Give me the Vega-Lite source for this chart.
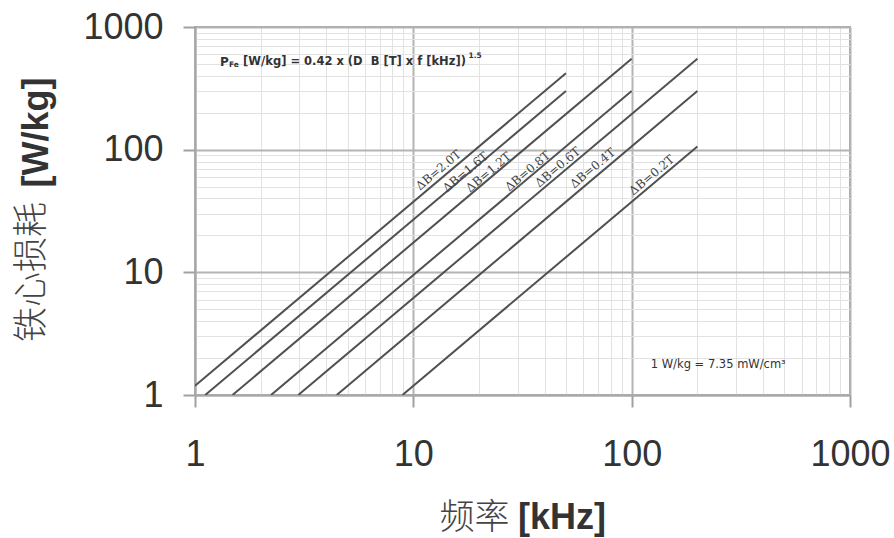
{
  "$schema": "https://vega.github.io/schema/vega-lite/v6.json",
  "width": 655,
  "height": 368,
  "autosize": "none",
  "padding": {"left": 195, "top": 27, "right": 44, "bottom": 143},
  "background": "white",
  "config": {
    "view": {"stroke": "#a8a8a8", "strokeWidth": 2}
  },
  "datasets": {
    "lines": [
      {"series": "2.0", "f": 1, "P": 1.188},
      {"series": "2.0", "f": 50, "P": 420},
      {"series": "1.6", "f": 1.114, "P": 1},
      {"series": "1.6", "f": 50, "P": 300.5},
      {"series": "1.2", "f": 1.486, "P": 1},
      {"series": "1.2", "f": 100, "P": 552.1},
      {"series": "0.8", "f": 2.229, "P": 1},
      {"series": "0.8", "f": 100, "P": 300.5},
      {"series": "0.6", "f": 2.972, "P": 1},
      {"series": "0.6", "f": 200, "P": 552.1},
      {"series": "0.4", "f": 4.458, "P": 1},
      {"series": "0.4", "f": 200, "P": 300.5},
      {"series": "0.2", "f": 8.915, "P": 1},
      {"series": "0.2", "f": 200, "P": 106.3}
    ],
    "labels": [
      {"text": "ΔB=2.0T", "f": 13.02, "P": 68.2},
      {"text": "ΔB=1.6T", "f": 17.32, "P": 65.7},
      {"text": "ΔB=1.2T", "f": 22.08, "P": 65.7},
      {"text": "ΔB=0.8T", "f": 33.34, "P": 66.9},
      {"text": "ΔB=0.6T", "f": 45.8, "P": 72.1},
      {"text": "ΔB=0.4T", "f": 66.2, "P": 70.8},
      {"text": "ΔB=0.2T", "f": 123.5, "P": 62.1}
    ]
  },
  "layer": [
    {
      "data": {"name": "lines"},
      "mark": {"type": "line", "color": "#505050", "strokeWidth": 2, "clip": true},
      "encoding": {
        "x": {
          "field": "f", "type": "quantitative",
          "scale": {"type": "log", "domain": [1, 1000], "nice": false},
          "axis": {
            "title": null,
            "values": [1,2,3,4,5,6,7,8,9,10,20,30,40,50,60,70,80,90,100,200,300,400,500,600,700,800,900,1000],
            "labelExpr": "(datum.value == 1 || datum.value == 10 || datum.value == 100 || datum.value == 1000) ? datum.label : ''",
            "format": "d",
            "labelFont": "Liberation Sans",
            "labelFontSize": 36,
            "labelColor": "#333333",
            "labelBaseline": "alphabetic",
            "labelAlign": "center",
            "labelPadding": 58,
            "labelFlush": false,
            "labelOverlap": false,
            "labelBound": false,
            "tickSize": 12,
            "tickWidth": 2,
            "tickColor": {"condition": {"test": "datum.value == 1 || datum.value == 10 || datum.value == 100 || datum.value == 1000", "value": "#a0a0a0"}, "value": "transparent"},
            "domainColor": "#a8a8a8",
            "domainWidth": 2,
            "grid": true,
            "gridColor": {"condition": {"test": "datum.value == 1 || datum.value == 10 || datum.value == 100 || datum.value == 1000", "value": "#b4b4b4"}, "value": "#e2e2e2"},
            "gridWidth": {"condition": {"test": "datum.value == 1 || datum.value == 10 || datum.value == 100 || datum.value == 1000", "value": 2}, "value": 1}
          }
        },
        "y": {
          "field": "P", "type": "quantitative",
          "scale": {"type": "log", "domain": [1, 1000], "nice": false},
          "axis": {
            "title": null,
            "values": [1,2,3,4,5,6,7,8,9,10,20,30,40,50,60,70,80,90,100,200,300,400,500,600,700,800,900,1000],
            "labelExpr": "(datum.value == 1 || datum.value == 10 || datum.value == 100 || datum.value == 1000) ? datum.label : ''",
            "format": "d",
            "labelFont": "Liberation Sans",
            "labelFontSize": 36,
            "labelColor": "#333333",
            "labelBaseline": "middle",
            "labelAlign": "right",
            "labelPadding": 20,
            "labelFlush": false,
            "labelOverlap": false,
            "labelBound": false,
            "tickSize": 12,
            "tickWidth": 2,
            "tickColor": {"condition": {"test": "datum.value == 1 || datum.value == 10 || datum.value == 100 || datum.value == 1000", "value": "#a0a0a0"}, "value": "transparent"},
            "domainColor": "#a8a8a8",
            "domainWidth": 2,
            "grid": true,
            "gridColor": {"condition": {"test": "datum.value == 1 || datum.value == 10 || datum.value == 100 || datum.value == 1000", "value": "#b4b4b4"}, "value": "#e2e2e2"},
            "gridWidth": {"condition": {"test": "datum.value == 1 || datum.value == 10 || datum.value == 100 || datum.value == 1000", "value": 2}, "value": 1}
          }
        },
        "detail": {"field": "series", "type": "nominal"}
      }
    },
    {
      "data": {"name": "labels"},
      "mark": {"type": "text", "font": "DejaVu Serif", "fontSize": 12, "angle": -40, "align": "center", "baseline": "middle", "color": "#444444"},
      "encoding": {
        "x": {"field": "f", "type": "quantitative"},
        "y": {"field": "P", "type": "quantitative"},
        "text": {"field": "text"}
      }
    },
    {
      "data": {"values": [{"text": "P", "f": 1.302, "P": 517.6}]},
      "mark": {"type": "text", "font": "DejaVu Sans", "fontWeight": "bold", "fontSize": 12, "align": "left", "baseline": "middle", "color": "#333333"},
      "encoding": {
        "x": {"field": "f", "type": "quantitative"},
        "y": {"field": "P", "type": "quantitative"},
        "text": {"field": "text"}
      }
    },
    {
      "data": {"values": [{"text": "[W/kg] = 0.42 x (D\u00a0\u00a0B [T] x f [kHz])", "f": 1.661, "P": 517.6}]},
      "mark": {"type": "text", "font": "DejaVu Sans", "fontWeight": "bold", "fontSize": 11.5, "align": "left", "baseline": "middle", "color": "#333333"},
      "encoding": {
        "x": {"field": "f", "type": "quantitative"},
        "y": {"field": "P", "type": "quantitative"},
        "text": {"field": "text"}
      }
    },
    {
      "data": {"values": [{"text": "Fe", "f": 1.432, "P": 489}, {"text": "1.5", "f": 17.88, "P": 579}]},
      "mark": {"type": "text", "font": "DejaVu Sans", "fontWeight": "bold", "fontSize": 7.5, "align": "left", "baseline": "middle", "color": "#333333"},
      "encoding": {
        "x": {"field": "f", "type": "quantitative"},
        "y": {"field": "P", "type": "quantitative"},
        "text": {"field": "text"}
      }
    },
    {
      "data": {"values": [{"text": "1 W/kg = 7.35 mW/cm³", "f": 122.3, "P": 1.756}]},
      "mark": {"type": "text", "font": "DejaVu Sans", "fontSize": 11.5, "align": "left", "baseline": "middle", "color": "#333333"},
      "encoding": {
        "x": {"field": "f", "type": "quantitative"},
        "y": {"field": "P", "type": "quantitative"},
        "text": {"field": "text"}
      }
    },
    {
      "data": {"values": [{"text": "频率", "f": 19.05, "P": 0.1}]},
      "mark": {"type": "text", "font": "Noto Sans CJK SC", "fontWeight": 300, "fontSize": 35, "align": "center", "baseline": "middle", "color": "#444444"},
      "encoding": {
        "x": {"field": "f", "type": "quantitative"},
        "y": {"field": "P", "type": "quantitative"},
        "text": {"field": "text"}
      }
    },
    {
      "data": {"values": [{"text": "[kHz]", "f": 47.98, "P": 0.1}]},
      "mark": {"type": "text", "font": "Liberation Sans", "fontWeight": "bold", "fontSize": 36, "align": "center", "baseline": "middle", "color": "#333333"},
      "encoding": {
        "x": {"field": "f", "type": "quantitative"},
        "y": {"field": "P", "type": "quantitative"},
        "text": {"field": "text"}
      }
    },
    {
      "data": {"values": [{"text": "铁心损耗", "f": 0.18, "P": 10.06}]},
      "mark": {"type": "text", "font": "Noto Sans CJK SC", "fontWeight": 300, "fontSize": 35, "angle": 270, "align": "center", "baseline": "middle", "color": "#444444"},
      "encoding": {
        "x": {"field": "f", "type": "quantitative"},
        "y": {"field": "P", "type": "quantitative"},
        "text": {"field": "text"}
      }
    },
    {
      "data": {"values": [{"text": "[W/kg]", "f": 0.1884, "P": 137.8}]},
      "mark": {"type": "text", "font": "Liberation Sans", "fontWeight": "bold", "fontSize": 36, "angle": 270, "align": "center", "baseline": "middle", "color": "#333333"},
      "encoding": {
        "x": {"field": "f", "type": "quantitative"},
        "y": {"field": "P", "type": "quantitative"},
        "text": {"field": "text"}
      }
    }
  ]
}
